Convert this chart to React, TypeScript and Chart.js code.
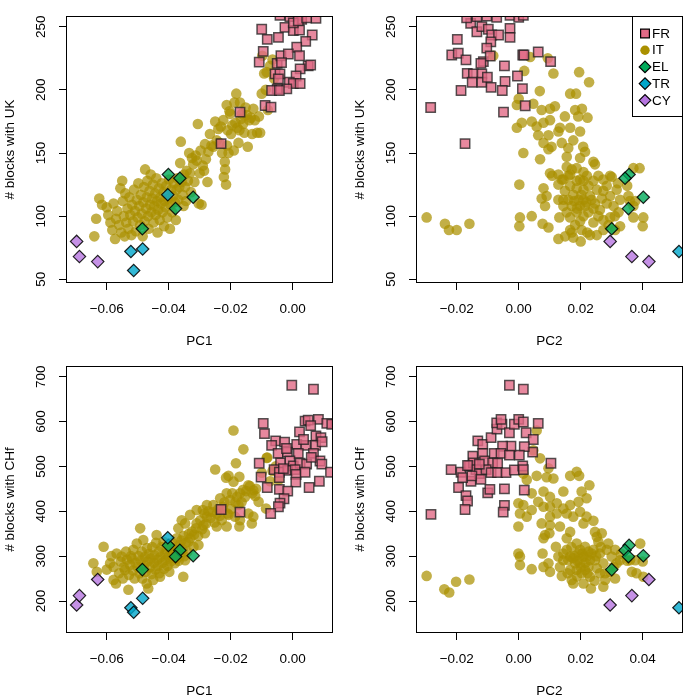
import React, { useEffect, useRef } from "react";
import { Chart, registerables } from "chart.js";

Chart.register(...registerables);

type Pt = [number, number];

// ---------- axis ticks ----------
const PC1_TICKS = [-0.06, -0.04, -0.02, 0.0];
const PC2_TICKS = [-0.02, 0.0, 0.02, 0.04];
const UK_TICKS = [50, 100, 150, 200, 250];
const CHF_TICKS = [200, 300, 400, 500, 600, 700];

const PC1_RANGE: [number, number] = [-0.07297, 0.01284];
const PC2_RANGE: [number, number] = [-0.03297, 0.05284];
const UK_RANGE: [number, number] = [47.47, 258.08];
const CHF_RANGE: [number, number] = [129.8, 722.7];

// ---------- groups ----------
const GROUPS = ["FR", "IT", "EL", "TR", "CY"];

// individuals of the small groups (PC1, PC2, UK, CHf)
const EL_PC1 = [-0.0401, -0.0364, -0.0378, -0.0321, -0.0485];
const EL_PC2 = [0.0356, 0.0343, 0.0354, 0.0402, 0.03];
const EL_UK = [133, 130, 106, 115, 90];
const EL_CHF = [324, 313, 299, 301, 270];

const TR_PC1 = [-0.0522, -0.0484, -0.0513, -0.0403];
const TR_PC2 = [0.0517, 0.062, 0.066, 0.058];
const TR_UK = [72, 74, 57, 117];
const TR_CHF = [185, 206, 175, 341];

const CY_PC1 = [-0.0697, -0.0688, -0.0629];
const CY_PC2 = [0.0295, 0.0365, 0.042];
const CY_UK = [80, 68, 64];
const CY_CHF = [191, 212, 248];

// ---------- FR ----------
const FR_PC1_UK: Pt[] = [
  [-0.01, 248], [-0.0082, 240], [-0.0046, 241.6], [-0.0025, 249.5], [0.0002, 247], [0.0022, 247.4],
  [0.0063, 243.4], [0.0042, 238.4], [0.0013, 233.7], [-0.0041, 259], [-0.0009, 258], [0.0018, 259],
  [0.0029, 255.8], [0.0075, 256.6], [0.0002, 253], [0.0018, 254.7], [0.0045, 257], [-0.0095, 230.5],
  [-0.0108, 222], [-0.005, 221], [-0.0038, 227], [-0.0014, 228.4], [0.0022, 227], [0.005, 219],
  [0.0024, 216.6], [0.0011, 211], [-0.0011, 206], [0.0002, 205], [0.0024, 205], [-0.0019, 200.8],
  [-0.0057, 212.6], [-0.0041, 212.6], [-0.0046, 208.7], [-0.005, 200.8], [-0.0068, 199.5],
  [-0.0043, 199.5], [-0.0089, 187.6], [-0.007, 186.3], [-0.017, 182.4], [-0.0231, 157.4],
  [-0.0036, 221.5], [0.0058, 219.7], [0.003, 263], [-0.002, 268], [0.006, 275],
];
const FR_PC2_UK: Pt[] = [
  [-0.0284, 186], [-0.0173, 157.4], [-0.0049, 182.4], [-0.0186, 199.5], [-0.0198, 240], [-0.0216, 227.6],
  [-0.0195, 229], [-0.017, 223.7], [-0.0155, 252.6], [-0.0135, 246], [-0.0119, 250], [-0.0098, 248],
  [-0.0087, 243.4], [-0.0065, 243.4], [-0.0028, 248.7], [-0.0028, 241.6], [-0.009, 238], [-0.0103, 233],
  [-0.0114, 222.4], [-0.0092, 226.8], [-0.0046, 219], [0.0013, 227.6], [0.0017, 227.6], [0.0063, 230],
  [0.0103, 222.4], [-0.0166, 213], [-0.0146, 212.6], [-0.0119, 212.6], [-0.015, 206], [-0.0119, 206],
  [-0.0101, 210], [-0.0089, 202], [-0.0044, 206.6], [-0.0053, 199.5], [-0.0004, 211], [0.0012, 201],
  [0.0021, 187.4], [-0.0122, 221], [-0.0168, 257], [-0.0135, 258], [-0.0103, 258.5], [-0.0071, 257.5],
  [-0.0028, 259], [0.0, 257.5], [0.0015, 259],
];
const FR_PC1_CHF: Pt[] = [
  [-0.0003, 681], [0.0067, 672], [-0.0095, 596], [-0.0091, 573], [-0.0055, 557], [-0.0026, 554],
  [-0.0068, 547], [0.004, 601], [0.005, 603], [0.0083, 605], [0.0058, 591], [0.011, 596], [0.0126, 594],
  [0.0022, 577], [0.0075, 568], [0.0091, 564], [0.0074, 547], [0.0013, 549], [0.0042, 547], [-0.0047, 529],
  [-0.0017, 532], [0.0018, 529], [0.0067, 529], [0.0088, 512], [0.0094, 505], [-0.0108, 507], [-0.0039, 508],
  [-0.0009, 512], [0.0002, 501], [0.0024, 507], [0.0045, 505], [-0.006, 493], [-0.0043, 487], [-0.0016, 491],
  [0.0008, 493], [0.0011, 482], [0.004, 487], [0.0122, 487], [-0.0102, 476], [-0.0043, 475], [0.001, 465],
  [0.0086, 467], [-0.0082, 453], [-0.0043, 449], [-0.0016, 445], [-0.0028, 428], [-0.0041, 418],
  [-0.0046, 410], [-0.0071, 395], [0.0053, 453], [-0.0231, 404], [-0.017, 398], [-0.003, 495], [0.006, 520],
  [-0.002, 540], [0.0095, 555], [0.0035, 560],
];
const FR_PC2_CHF: Pt[] = [
  [-0.003, 681], [0.0015, 672], [-0.0283, 393], [-0.0218, 493], [-0.0194, 453], [-0.017, 435],
  [-0.0165, 423], [-0.0173, 404], [-0.0186, 487], [-0.0154, 467], [-0.0159, 501], [-0.0148, 523],
  [-0.0132, 557], [-0.0116, 549], [-0.0089, 564], [-0.007, 583], [-0.0071, 597], [-0.0054, 594],
  [-0.0057, 605], [-0.003, 575], [-0.0014, 594], [0.0, 605], [0.0015, 599], [0.0024, 575], [0.0063, 596],
  [0.0047, 560], [0.0045, 532], [0.0018, 544], [0.0002, 525], [-0.0025, 545], [-0.0052, 545], [-0.0079, 529],
  [-0.0057, 529], [-0.003, 525], [-0.0116, 529], [-0.011, 512], [-0.0084, 508], [-0.0068, 507], [-0.0146, 508],
  [-0.0138, 493], [-0.0127, 484], [-0.0105, 493], [-0.0089, 486], [-0.0068, 486], [-0.0041, 486],
  [-0.0014, 492], [0.0013, 501], [0.0015, 493], [-0.0165, 502], [-0.0181, 475], [-0.0151, 479],
  [-0.0122, 471], [-0.01, 441], [-0.0093, 449], [-0.0046, 450], [-0.0046, 413], [-0.005, 398], [0.0018, 447],
  [0.0104, 507], [-0.0127, 505],
];

// ---------- IT ----------
const IT_PC1_UK: Pt[] = [
  [-0.064, 84], [-0.0634, 98], [-0.0624, 114], [-0.0615, 109], [-0.06, 107], [-0.0595, 101], [-0.0588, 95],
  [-0.0582, 89], [-0.0578, 110], [-0.0573, 82], [-0.057, 98], [-0.0566, 104], [-0.056, 93], [-0.0556, 122],
  [-0.0553, 87], [-0.055, 128], [-0.0548, 112], [-0.0545, 100], [-0.0542, 84], [-0.054, 118], [-0.0537, 95],
  [-0.0533, 106], [-0.053, 90], [-0.0527, 115], [-0.0524, 101], [-0.052, 85], [-0.0518, 109], [-0.0515, 96],
  [-0.0512, 121], [-0.0509, 104], [-0.0506, 88], [-0.0503, 113], [-0.05, 99], [-0.0498, 126], [-0.0495, 108],
  [-0.0492, 93], [-0.049, 117], [-0.0487, 102], [-0.0484, 84], [-0.0482, 111], [-0.048, 123], [-0.0478, 96],
  [-0.0476, 137], [-0.0473, 106], [-0.0471, 115], [-0.0469, 128], [-0.0467, 100], [-0.0465, 90], [-0.0462, 120],
  [-0.046, 109], [-0.0458, 133], [-0.0456, 103], [-0.0453, 114], [-0.0451, 125], [-0.0449, 95], [-0.0447, 108],
  [-0.0444, 118], [-0.0442, 101], [-0.044, 130], [-0.0438, 112], [-0.0436, 87], [-0.0434, 105], [-0.0432, 122],
  [-0.0429, 97], [-0.0427, 115], [-0.0425, 110], [-0.0422, 126], [-0.042, 103], [-0.0417, 119], [-0.0415, 92],
  [-0.0413, 112], [-0.041, 107], [-0.0408, 124], [-0.0405, 99], [-0.0402, 114], [-0.0399, 129], [-0.0396, 90],
  [-0.0394, 109], [-0.0392, 121], [-0.0389, 103], [-0.0386, 116], [-0.0383, 126], [-0.038, 111], [-0.0377, 97],
  [-0.0375, 121], [-0.0372, 130], [-0.0369, 113], [-0.0366, 123], [-0.0363, 142], [-0.0361, 159], [-0.0358, 127],
  [-0.0355, 117], [-0.0352, 108], [-0.035, 133], [-0.0347, 123], [-0.0344, 112], [-0.0342, 136], [-0.0338, 128],
  [-0.0334, 150], [-0.0331, 134], [-0.0328, 119], [-0.0325, 146], [-0.0321, 141], [-0.0317, 127], [-0.0313, 148],
  [-0.031, 144], [-0.0306, 173], [-0.0303, 110], [-0.03, 134], [-0.0297, 152], [-0.0294, 109], [-0.029, 140],
  [-0.0286, 136], [-0.0283, 157], [-0.028, 145], [-0.0275, 127], [-0.0272, 151], [-0.0267, 165], [-0.0262, 156],
  [-0.0256, 155], [-0.025, 175], [-0.0245, 160], [-0.024, 169], [-0.0236, 158], [-0.0232, 171], [-0.0228, 150],
  [-0.0224, 176], [-0.0222, 131], [-0.0219, 143], [-0.0218, 137], [-0.0215, 125], [-0.0213, 188], [-0.0212, 156],
  [-0.021, 168], [-0.0207, 150], [-0.0204, 183], [-0.0202, 181], [-0.0199, 165], [-0.0195, 172], [-0.019, 152],
  [-0.0188, 190], [-0.0185, 174], [-0.0182, 197], [-0.0179, 170], [-0.0175, 158], [-0.0172, 168], [-0.017, 190],
  [-0.0167, 177], [-0.0164, 181], [-0.016, 173], [-0.0156, 166], [-0.0152, 186], [-0.0148, 180], [-0.0145, 155],
  [-0.014, 176], [-0.0135, 178], [-0.0131, 165], [-0.0127, 185], [-0.0122, 176], [-0.0115, 166], [-0.0109, 179],
  [-0.0105, 166], [-0.01, 197], [-0.0098, 227], [-0.0092, 213], [-0.0087, 200], [-0.0084, 214], [-0.008, 184],
  [-0.0073, 219], [-0.0065, 224], [-0.006, 209],
];
const IT_PC2_UK: Pt[] = [
  [-0.0297, 99], [-0.0238, 94], [-0.0225, 89], [-0.02, 89], [-0.0159, 94], [-0.0082, 227], [0.0037, 226],
  [0.0094, 225], [0.0018, 215], [0.0112, 213], [0.0195, 214], [0.0227, 206], [0.0068, 199], [0.0166, 197],
  [0.0185, 197], [0.0, 193], [-0.0006, 188], [0.0047, 189], [0.0074, 184], [0.0101, 185], [0.0117, 187],
  [0.0182, 184], [0.0204, 185], [-0.0006, 170], [0.001, 174], [0.0042, 175], [0.0058, 171], [0.008, 174],
  [0.0101, 176], [0.0133, 170], [0.0149, 179], [0.0192, 179], [0.0222, 178], [0.0063, 164], [0.0096, 164],
  [0.0128, 167], [0.0166, 170], [0.0198, 167], [0.008, 158], [0.0106, 155], [0.0139, 158], [0.016, 154],
  [0.0176, 160], [0.0208, 155], [0.0096, 153], [0.0015, 150], [0.0069, 145], [0.0155, 147], [0.0198, 146],
  [0.0214, 151], [0.0241, 143], [0.0246, 141], [0.0002, 125], [0.0004, 99], [0.0002, 92], [0.0042, 100],
  [0.0077, 94], [0.0096, 91], [0.0101, 134], [0.0108, 132], [0.008, 122], [0.009, 116], [0.0074, 114],
  [0.0085, 108], [0.0128, 133], [0.0144, 129], [0.0128, 125], [0.0128, 113], [0.0131, 99], [0.0128, 82],
  [0.015, 84], [0.0166, 133], [0.0171, 87], [0.0176, 83], [0.02, 80], [0.0221, 87], [0.023, 85],
  [0.0155, 139], [0.0171, 137], [0.0187, 138], [0.0209, 135], [0.0198, 129], [0.022, 132], [0.0241, 128],
  [0.0257, 132], [0.0273, 129], [0.0284, 124], [0.0295, 132], [0.0316, 121], [0.0327, 113], [0.0354, 116],
  [0.039, 138], [0.0359, 112], [0.037, 99], [0.0402, 99], [0.04, 92], [0.0327, 92], [0.0311, 89], [0.0273, 89],
  [0.0252, 85], [0.0295, 99], [0.0273, 97], [0.0262, 105], [0.0246, 110], [0.023, 116], [0.0209, 113],
  [0.0198, 108], [0.0187, 103], [0.0171, 108], [0.016, 113], [0.0176, 117], [0.0149, 120], [0.0166, 124],
  [0.0187, 122], [0.0209, 121], [0.0225, 124], [0.0252, 121], [0.0268, 114], [0.0284, 110], [0.0306, 108],
  [0.0322, 103], [0.0295, 116], [0.0273, 120], [0.0241, 106], [0.0225, 103], [0.0209, 100], [0.0198, 96],
  [0.0182, 93], [0.0166, 99], [0.0155, 103], [0.0144, 108], [0.0144, 113], [0.0193, 113], [0.0214, 108],
  [0.0235, 113], [0.0257, 100], [0.0241, 95], [0.0203, 89], [0.0166, 89], [0.0209, 128], [0.0187, 128],
  [0.0139, 129], [0.016, 132], [0.037, 138], [0.0376, 112], [0.037, 108], [0.03, 131], [0.032, 126],
  [0.035, 124], [0.029, 93], [0.031, 100], [0.0179, 112], [0.0202, 117], [0.0218, 111], [0.0188, 106],
];
const IT_PC1_CHF: Pt[] = [
  [-0.0191, 580], [-0.0159, 538], [-0.025, 493], [-0.0183, 507], [-0.0172, 477], [-0.0207, 479],
  [-0.0191, 466], [-0.0143, 458], [-0.0127, 447], [-0.0121, 434], [-0.011, 421], [-0.0086, 406],
  [-0.0082, 520], [-0.0154, 432], [-0.017, 440], [-0.0213, 440], [-0.0202, 425], [-0.0175, 414],
  [-0.0234, 429], [-0.0256, 414], [-0.0277, 414], [-0.029, 403], [-0.031, 403], [-0.0331, 392],
  [-0.0347, 373], [-0.0358, 380], [-0.0369, 362], [-0.031, 373], [-0.0283, 351], [-0.0277, 388],
  [-0.0245, 395], [-0.0229, 380], [-0.0207, 392], [-0.0186, 388], [-0.017, 380], [-0.0172, 366],
  [-0.0132, 373], [-0.0127, 388], [-0.0143, 395], [-0.0213, 366], [-0.0245, 366], [-0.0288, 369],
  [-0.032, 321], [-0.0336, 332], [-0.0304, 325], [-0.0353, 254], [-0.0347, 291], [-0.0374, 295],
  [-0.0643, 284], [-0.0632, 265], [-0.061, 321], [-0.06, 270], [-0.0589, 284], [-0.0585, 300],
  [-0.0578, 247], [-0.0578, 276], [-0.057, 239], [-0.0568, 306], [-0.056, 262], [-0.0555, 288],
  [-0.0552, 299], [-0.0548, 250], [-0.0545, 275], [-0.0541, 269], [-0.0538, 310], [-0.0535, 292],
  [-0.053, 225], [-0.0528, 258], [-0.0525, 280], [-0.0522, 300], [-0.0519, 295], [-0.0515, 268],
  [-0.0514, 314], [-0.051, 250], [-0.0507, 285], [-0.0503, 328], [-0.05, 276], [-0.0497, 300],
  [-0.0494, 262], [-0.0492, 362], [-0.049, 290], [-0.0487, 310], [-0.0485, 250], [-0.0482, 336],
  [-0.048, 280], [-0.0477, 298], [-0.0474, 265], [-0.0471, 239], [-0.047, 318], [-0.0468, 288],
  [-0.0466, 228], [-0.0464, 305], [-0.0461, 275], [-0.0458, 295], [-0.0455, 260], [-0.0453, 320],
  [-0.045, 247], [-0.0448, 285], [-0.0446, 302], [-0.0443, 270], [-0.0441, 330], [-0.0439, 347],
  [-0.0437, 292], [-0.0435, 278], [-0.0432, 310], [-0.043, 262], [-0.0428, 254], [-0.0426, 298],
  [-0.0423, 320], [-0.042, 285], [-0.0417, 332], [-0.0415, 272], [-0.0412, 305], [-0.041, 292],
  [-0.0407, 315], [-0.0404, 278], [-0.0401, 300], [-0.0398, 265], [-0.0396, 321], [-0.0394, 288],
  [-0.0391, 308], [-0.0389, 330], [-0.0386, 296], [-0.0383, 318], [-0.038, 284], [-0.0377, 305],
  [-0.0374, 340], [-0.0371, 312], [-0.0368, 290], [-0.0365, 325], [-0.0362, 302], [-0.0359, 335],
  [-0.0355, 315], [-0.0352, 345], [-0.035, 300], [-0.0345, 330], [-0.034, 310], [-0.0335, 350],
  [-0.033, 340], [-0.0325, 355], [-0.0318, 348], [-0.0312, 362], [-0.0305, 345], [-0.0298, 380],
  [-0.0292, 360], [-0.0285, 395], [-0.028, 372], [-0.0272, 400], [-0.0265, 385], [-0.0258, 398],
  [-0.0252, 375], [-0.024, 405], [-0.0235, 390], [-0.0225, 410], [-0.022, 420], [-0.0215, 475],
  [-0.021, 395], [-0.0198, 405], [-0.0195, 440], [-0.0185, 420], [-0.018, 432], [-0.0165, 420],
  [-0.016, 448], [-0.015, 445], [-0.0138, 456], [-0.013, 440], [-0.0118, 450], [-0.01, 486],
  [-0.0084, 519], [-0.0073, 467], [-0.0065, 490], [-0.0055, 500], [-0.0045, 470],
];
const IT_PC2_CHF: Pt[] = [
  [-0.0297, 256], [-0.024, 226], [-0.0224, 219], [-0.0202, 243], [-0.0159, 248], [0.0058, 580], [0.0069, 518],
  [0.0047, 536], [0.0015, 484], [0.0026, 470], [0.0058, 479], [0.009, 476], [0.0112, 473], [0.0096, 496],
  [0.0042, 440], [0.008, 444], [0.0101, 432], [0.0144, 444], [0.0166, 479], [0.0187, 488], [0.0195, 479],
  [0.0228, 458], [0.0203, 444], [0.0219, 429], [0.0193, 421], [0.0166, 414], [0.0144, 406], [0.0123, 418],
  [0.0101, 410], [0.0101, 388], [0.0123, 395], [0.0155, 395], [0.0176, 388], [0.0198, 399], [0.0219, 388],
  [0.0241, 379], [0.0246, 354], [0.0209, 373], [0.008, 410], [0.0063, 421], [-0.0001, 418], [0.0015, 414],
  [0.0004, 395], [0.0026, 388], [0.0042, 403], [-0.0001, 366], [0.0074, 373], [0.0085, 347], [0.0101, 369],
  [0.0133, 366], [0.008, 340], [0.0099, 351], [0.0166, 354], [0.0155, 340], [0.0268, 351], [0.0252, 343],
  [-0.0001, 306], [0.0004, 299], [0.0004, 280], [0.0042, 271], [0.0077, 306], [0.008, 276], [0.0096, 284],
  [0.0101, 265], [0.012, 321], [0.0128, 299], [0.0133, 276], [0.0139, 256], [0.0155, 314], [0.016, 291],
  [0.0166, 269], [0.0171, 247], [0.0176, 239], [0.0187, 328], [0.0193, 306], [0.0198, 284], [0.0203, 262],
  [0.0209, 239], [0.0214, 321], [0.0219, 299], [0.0225, 276], [0.023, 254], [0.0233, 228], [0.0241, 314],
  [0.0246, 291], [0.0252, 273], [0.0257, 332], [0.0262, 306], [0.0273, 284], [0.0279, 262], [0.0284, 314],
  [0.0289, 328], [0.03, 299], [0.0311, 314], [0.0316, 284], [0.0311, 250], [0.0327, 291], [0.0359, 291],
  [0.0365, 265], [0.0376, 291], [0.0392, 328], [0.04, 288], [0.0402, 254], [0.0166, 299], [0.0182, 284],
  [0.0198, 314], [0.0209, 299], [0.023, 291], [0.0187, 269], [0.0214, 269], [0.0235, 306], [0.0144, 306],
  [0.0144, 291], [0.0273, 232], [0.0279, 247], [0.0306, 276], [0.017, 320], [0.018, 300], [0.019, 290],
  [0.02, 275], [0.0215, 285], [0.0225, 310], [0.025, 300], [0.0265, 320], [0.0295, 265], [0.033, 305],
  [0.035, 290], [0.038, 262], [0.0175, 296], [0.0205, 306], [0.0222, 262], [0.0188, 255], [0.0158, 262],
  [0.0262, 262], [0.0245, 245],
];

// ---------- styling ----------
const FONT = '"Liberation Sans", Arial, Helvetica, sans-serif';
const COL = {
  FR: "rgba(225,106,134,0.8)",
  IT: "rgba(170,144,0,0.72)",
  EL: "rgba(0,170,90,0.8)",
  TR: "rgba(0,166,202,0.8)",
  CY: "rgba(182,117,224,0.8)",
};
const SOLID = { FR: "#E16A86", IT: "#AA9000", EL: "#00AA5A", TR: "#00A6CA", CY: "#B675E0" };

const zip = (a: number[], b: number[]) => a.map((v, i) => ({ x: v, y: b[i] }));
const pts = (a: Pt[]) => a.map(([x, y]) => ({ x, y }));

const fmtPC = (v: number) => {
  const s = Math.abs(v).toFixed(2);
  return v < -1e-9 ? "\u2212" + s : s;
};

const boxPlugin = {
  id: "rbox",
  afterDraw(chart: any) {
    const { ctx, chartArea: a } = chart;
    ctx.save();
    ctx.strokeStyle = "#000";
    ctx.lineWidth = 1;
    ctx.strokeRect(a.left, a.top, a.right - a.left, a.bottom - a.top);
    ctx.restore();
  },
};

const legendPlugin = {
  id: "rlegend",
  afterDraw(chart: any) {
    const { ctx, chartArea: a } = chart;
    const left = 282.5;
    const top = a.top;
    const right = a.right;
    const bottom = 116.5;
    ctx.save();
    ctx.fillStyle = "#fff";
    ctx.fillRect(left, top, right - left, bottom - top);
    ctx.strokeStyle = "#000";
    ctx.lineWidth = 1;
    ctx.strokeRect(left, top, right - left, bottom - top);
    ctx.font = `13.5px ${FONT}`;
    ctx.textBaseline = "middle";
    ctx.textAlign = "left";
    GROUPS.forEach((g, i) => {
      const cy = top + 17 + i * 16.7;
      const cx = left + 12.5;
      ctx.fillStyle = (SOLID as any)[g];
      ctx.strokeStyle = "#000";
      ctx.lineWidth = 1.2;
      ctx.beginPath();
      if (g === "FR") {
        ctx.rect(cx - 4.4, cy - 4.4, 8.8, 8.8);
        ctx.fill();
        ctx.stroke();
      } else if (g === "IT") {
        ctx.arc(cx, cy, 4.7, 0, Math.PI * 2);
        ctx.fill();
      } else {
        ctx.moveTo(cx - 5.8, cy);
        ctx.lineTo(cx, cy - 5.8);
        ctx.lineTo(cx + 5.8, cy);
        ctx.lineTo(cx, cy + 5.8);
        ctx.closePath();
        ctx.fill();
        ctx.stroke();
      }
      ctx.fillStyle = "#000";
      ctx.fillText(g, left + 19.5, cy + 0.5);
    });
    ctx.restore();
  },
};

type PanelCfg = {
  xTitle: string;
  yTitle: string;
  xRange: [number, number];
  yRange: [number, number];
  xTicks: number[];
  yTicks: number[];
  fr: Pt[];
  it: Pt[];
  el: { x: number; y: number }[];
  tr: { x: number; y: number }[];
  cy: { x: number; y: number }[];
  legend?: boolean;
};

const PANELS: PanelCfg[] = [
  {
    xTitle: "PC1", yTitle: "# blocks with UK", xRange: PC1_RANGE, yRange: UK_RANGE,
    xTicks: PC1_TICKS, yTicks: UK_TICKS, fr: FR_PC1_UK, it: IT_PC1_UK,
    el: zip(EL_PC1, EL_UK), tr: zip(TR_PC1, TR_UK), cy: zip(CY_PC1, CY_UK),
  },
  {
    xTitle: "PC2", yTitle: "# blocks with UK", xRange: PC2_RANGE, yRange: UK_RANGE,
    xTicks: PC2_TICKS, yTicks: UK_TICKS, fr: FR_PC2_UK, it: IT_PC2_UK,
    el: zip(EL_PC2, EL_UK), tr: zip(TR_PC2, TR_UK), cy: zip(CY_PC2, CY_UK), legend: true,
  },
  {
    xTitle: "PC1", yTitle: "# blocks with CHf", xRange: PC1_RANGE, yRange: CHF_RANGE,
    xTicks: PC1_TICKS, yTicks: CHF_TICKS, fr: FR_PC1_CHF, it: IT_PC1_CHF,
    el: zip(EL_PC1, EL_CHF), tr: zip(TR_PC1, TR_CHF), cy: zip(CY_PC1, CY_CHF),
  },
  {
    xTitle: "PC2", yTitle: "# blocks with CHf", xRange: PC2_RANGE, yRange: CHF_RANGE,
    xTicks: PC2_TICKS, yTicks: CHF_TICKS, fr: FR_PC2_CHF, it: IT_PC2_CHF,
    el: zip(EL_PC2, EL_CHF), tr: zip(TR_PC2, TR_CHF), cy: zip(CY_PC2, CY_CHF),
  },
];

function Panel({ cfg }: { cfg: PanelCfg }) {
  const ref = useRef<HTMLCanvasElement>(null);
  useEffect(() => {
    const font = { family: FONT, size: 13.5 };
    const diamond = (label: string, data: any[], color: string) => ({
      label, data, clip: 0,
      pointStyle: "rectRot", pointRadius: 6.2, pointHoverRadius: 6.2,
      pointBackgroundColor: color, pointBorderColor: "rgba(0,0,0,0.85)", pointBorderWidth: 1.2,
      backgroundColor: color, borderColor: "rgba(0,0,0,0.85)",
    });
    const chart = new Chart(ref.current as HTMLCanvasElement, {
      type: "scatter",
      data: {
        datasets: [
          {
            label: "FR", data: pts(cfg.fr), clip: 0,
            pointStyle: "rect", pointRadius: 6.6, pointHoverRadius: 6.6,
            pointBackgroundColor: COL.FR, pointBorderColor: "rgba(30,30,30,0.75)", pointBorderWidth: 1.5,
            backgroundColor: COL.FR, borderColor: "rgba(30,30,30,0.75)",
          },
          diamond("CY", cfg.cy, COL.CY),
          diamond("TR", cfg.tr, COL.TR),
          diamond("EL", cfg.el, COL.EL),
          {
            label: "IT", data: pts(cfg.it), clip: 0,
            pointStyle: "circle", pointRadius: 5.3, pointHoverRadius: 5.3,
            pointBackgroundColor: COL.IT, pointBorderWidth: 0, pointBorderColor: "rgba(0,0,0,0)",
            backgroundColor: COL.IT, borderColor: "rgba(0,0,0,0)",
          },
        ] as any,
      },
      options: {
        responsive: false,
        animation: false,
        devicePixelRatio: 1,
        events: [],
        layout: { padding: { left: 0, right: 17.5, top: 16.5, bottom: 0 } },
        plugins: { legend: { display: false }, tooltip: { enabled: false } },
        scales: {
          x: {
            type: "linear",
            min: cfg.xRange[0],
            max: cfg.xRange[1],
            afterBuildTicks: (s: any) => {
              s.ticks = cfg.xTicks.map((v) => ({ value: v }));
            },
            afterFit: (s: any) => {
              s.height = 67.5;
            },
            ticks: {
              callback: (v: any) => fmtPC(Number(v)),
              font, color: "#000", padding: 11.5, autoSkip: false, maxRotation: 0, minRotation: 0,
            },
            grid: { display: true, drawOnChartArea: false, drawTicks: true, tickLength: 7.5, color: "#000", lineWidth: 1 },
            border: { display: false },
            title: { display: true, text: cfg.xTitle, font, color: "#000", padding: { top: 0, bottom: 1 } },
          },
          y: {
            type: "linear",
            min: cfg.yRange[0],
            max: cfg.yRange[1],
            afterBuildTicks: (s: any) => {
              s.ticks = cfg.yTicks.map((v) => ({ value: v }));
            },
            afterFit: (s: any) => {
              s.width = 66.5;
            },
            ticks: {
              callback: (v: any) => String(v),
              font, color: "#000", padding: 6.3, autoSkip: false,
              minRotation: 90, maxRotation: 90, crossAlign: "center",
            },
            grid: { display: true, drawOnChartArea: false, drawTicks: true, tickLength: 7.5, color: "#000", lineWidth: 1 },
            border: { display: false },
            title: { display: true, text: cfg.yTitle, font, color: "#000", padding: { top: 2, bottom: 0 } },
          },
        },
      } as any,
      plugins: cfg.legend ? [boxPlugin, legendPlugin] : [boxPlugin],
    });
    return () => chart.destroy();
  }, [cfg]);
  return <canvas ref={ref} width={350} height={350} style={{ display: "block", width: 350, height: 350 }} />;
}

export default function App() {
  return (
    <div
      style={{
        position: "absolute",
        left: 0,
        top: 0,
        width: 700,
        height: 700,
        background: "#fff",
        display: "grid",
        gridTemplateColumns: "350px 350px",
        gridTemplateRows: "350px 350px",
      }}
    >
      {PANELS.map((p, i) => (
        <Panel key={i} cfg={p} />
      ))}
    </div>
  );
}
